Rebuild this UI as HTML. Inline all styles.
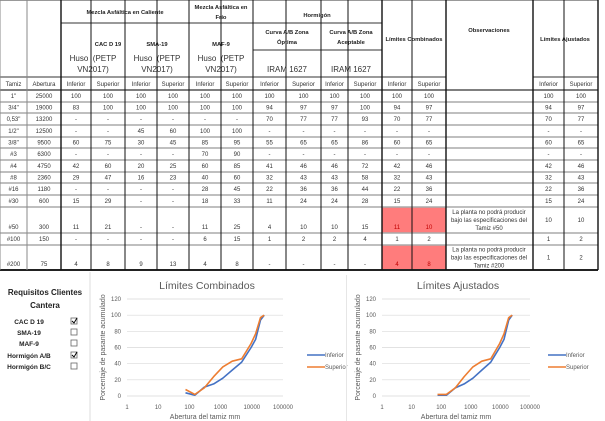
<!DOCTYPE html>
<html><head><meta charset="utf-8">
<style>
html,body{margin:0;padding:0;background:#fff;width:605px;height:421px;overflow:hidden}
svg{display:block;font-family:"Liberation Sans",sans-serif}
</style></head>
<body>
<svg id="s" width="605" height="421" viewBox="0 0 605 421" xmlns="http://www.w3.org/2000/svg"></svg>
<script>
var s=document.getElementById('s'),o='';
function L(x1,y1,x2,y2,c,w){o+='<line x1="'+x1+'" y1="'+y1+'" x2="'+x2+'" y2="'+y2+'" stroke="'+(c||'#000')+'" stroke-width="'+(w||1)+'"/>';}
function T(x,y,t,sz,opt){opt=opt||{};o+='<text x="'+x+'" y="'+y+'" font-size="'+sz+'" text-anchor="'+(opt.a||'middle')+'" fill="'+(opt.c||'#222')+'"'+(opt.b?' font-weight="bold"':'')+(opt.r?' transform="rotate(-90 '+x+' '+y+')"':'')+' xml:space="preserve">'+t+'</text>';}
function R(x,y,w,h,f,st){o+='<rect x="'+x+'" y="'+y+'" width="'+w+'" height="'+h+'" fill="'+f+'"'+(st?' stroke="'+st+'" stroke-width="0.8"':'')+'/>';}
var X=[0,27,61,91,125,157,189,221,253,286,321,348,382,412,446,533,564,598];
var rows=[90,102,113,125,137,148,160,172,183,195,207,233,245,270];
R(382,207,64,26,'#ff7c7c');R(382,245,64,25,'#ff7c7c');
for(var i=0;i<rows.length;i++){var y=rows[i];L(0,y,598,y,i==0?'#333':'#aaa',i==0?1.2:1.4);}
L(0,270,598,270,'#222',2);
L(0,0,598,0,'#333',1);
L(61,23,382,23,'#333',1);
L(253,50,382,50,'#333',1);
L(0,77,598,77,'#333',1);
L(446,77,533,77,'#fff',2);
for(var i=0;i<X.length;i++){var x=X[i];var top=0;
 if([27,91,157,221,286,348,412,564].indexOf(x)>=0)top=77;
 if(x==125||x==321)top=23;
 var c=(x==27)?'#888':'#111';var w=(x==61||x==446||x==533||x==382||x==598)?1.4:1;
 if(x==0){c='#888';w=1}
 L(x,top,x,270,c,w);}
var hs=5.8;
T(125,14,'Mezcla Asfáltica en Caliente',hs,{b:1});
T(221,9,'Mezcla Asfáltica en',hs,{b:1});T(221,19,'Frío',hs,{b:1});
T(317,17,'Hormigón',hs,{b:1});
T(108,46,'CAC D 19',hs,{b:1});T(157,46,'SMA-19',hs,{b:1});T(221,46,'MAF-9',hs,{b:1});
T(287,34,'Curva A/B Zona',hs,{b:1});T(287,44,'Óptima',hs,{b:1});
T(351,34,'Curva A/B Zona',hs,{b:1});T(351,44,'Aceptable',hs,{b:1});
T(414,41,'Límites Combinados',hs,{b:1});
T(489,32,'Observaciones',hs,{b:1});
T(565,41,'Límites Ajustados',hs,{b:1});
[93,157,221].forEach(function(cx){T(cx,61,'Huso  (PETP',8,{c:'#333'});T(cx,72,'VN2017)',8,{c:'#333'});});
T(287,72,'IRAM 1627',8,{c:'#333'});T(351,72,'IRAM 1627',8,{c:'#333'});
var hd=['Tamiz','Abertura'];
for(var i=0;i<17;i++){if(i==14)continue;var t=i<2?hd[i]:(i%2==0?'Inferior':'Superior');if(i>14)t=(i==15?'Inferior':'Superior');T((X[i]+X[i+1])/2,86,t,6,{c:'#333'});}
var data=[
['1"','25000','100','100','100','100','100','100','100','100','100','100','100','100','','100','100'],
['3/4"','19000','83','100','100','100','100','100','94','97','97','100','94','97','','94','97'],
['0,53"','13200','-','-','-','-','-','-','70','77','77','93','70','77','','70','77'],
['1/2"','12500','-','-','45','60','100','100','-','-','-','-','-','-','','-','-'],
['3/8"','9500','60','75','30','45','85','95','55','65','65','86','60','65','','60','65'],
['#3','6300','-','-','-','-','70','90','-','-','-','-','-','-','','-','-'],
['#4','4750','42','60','20','25','60','85','41','46','46','72','42','46','','42','46'],
['#8','2360','29','47','16','23','40','60','32','43','43','58','32','43','','32','43'],
['#16','1180','-','-','-','-','28','45','22','36','36','44','22','36','','22','36'],
['#30','600','15','29','-','-','18','33','11','24','24','28','15','24','','15','24'],
['#50','300','11','21','-','-','11','25','4','10','10','15','11','10','','10','10'],
['#100','150','-','-','-','-','6','15','1','2','2','4','1','2','','1','2'],
['#200','75','4','8','9','13','4','8','-','-','-','-','4','8','','1','2']];
for(var r=0;r<13;r++){var y0=rows[r],y1=rows[r+1];var tall=(r==10||r==12);
 for(var c=0;c<17;c++){var t=data[r][c];if(!t)continue;var y=tall?y1-4:(y0+y1)/2+2.2;var col='#333';
  if(tall&&(c==12||c==13))col='#c00000';
  if(tall&&(c==15||c==16))y=(y0+y1)/2+2.2;
  T((X[c]+X[c+1])/2,y,t,6,{c:col});}}
[[207,233],[245,270]].forEach(function(p,i){var cy=(p[0]+p[1])/2;
 T(489,cy-6,'La planta no podrá producir',6,{c:'#333'});T(489,cy+2,'bajo las especificaciones del',6,{c:'#333'});T(489,cy+10,i==0?'Tamiz #50':'Tamiz #200',6,{c:'#333'});});
L(90,272,90,421,'#ddd',1);
T(45,295,'Requisitos Clientes',8,{b:1});T(45,308,'Cantera',8,{b:1});
var it=[['CAC D 19',322,1],['SMA-19',333,0],['MAF-9',344,0],['Hormigón A/B',356,1],['Hormigón B/C',367,0]];
it.forEach(function(p){T(29,p[1]+2,p[0],6.5,{b:1});R(71,p[1]-4,6,6,'#fff','#666');if(p[2])o+='<path d="M72 '+(p[1]-1)+' L74 '+(p[1]+1)+' L77 '+(p[1]-4)+'" stroke="#000" stroke-width="1" fill="none"/>';});
function chart(x0,x1,lx,title,inf,sup){
 var y0=299,yb=396;var dx=(x1-x0)/5;
 T((x0+x1)/2+2,289,title,10.5,{c:'#595959'});
 for(var v=0;v<=120;v+=20){var y=yb-(yb-y0)*v/120;L(x0,y,x1,y,'#d9d9d9',0.7);T(x0-6,y+2,v,6,{a:'end',c:'#595959'});}
 var lab=['1','10','100','1000','10000','100000'];
 for(var i=0;i<6;i++)T(x0+dx*i,409,lab[i],6,{c:'#595959'});
 T((x0+x1)/2,419,'Abertura del tamiz mm',7,{c:'#595959'});
 T(x0-22,(y0+yb)/2,'Porcentaje de pasante acumulado',7,{c:'#595959',r:1});
 function pl(d,col){var p=[];d.forEach(function(q){p.push((x0+dx*Math.log10(q[0])).toFixed(1)+','+(yb-(yb-y0)*q[1]/120).toFixed(1));});o+='<polyline points="'+p.join(' ')+'" fill="none" stroke="'+col+'" stroke-width="1.6" stroke-linejoin="round"/>';}
 pl(inf,'#4472c4');pl(sup,'#ed7d31');
 L(lx,355,lx+18,355,'#4472c4',1.6);T(lx+18,357,'Inferior',6,{a:'start',c:'#595959'});
 L(lx,367,lx+18,367,'#ed7d31',1.6);T(lx+18,369,'Superior',6,{a:'start',c:'#595959'});
}
var sz=[75,150,300,600,1180,2360,4750,9500,13200,19000,25000];
function mk(a){return sz.map(function(z,i){return [z,a[i]];});}
chart(127,283,307,'Límites Combinados',mk([4,1,11,15,22,32,42,60,70,94,100]),mk([8,2,10,24,36,43,46,65,77,97,100]));
R(346,275,1,146,'#e6e6e6');
chart(382,530,548,'Límites Ajustados',mk([1,1,10,15,22,32,42,60,70,94,100]),mk([2,2,10,24,36,43,46,65,77,97,100]));
s.innerHTML=o;
</script>
</body></html>
